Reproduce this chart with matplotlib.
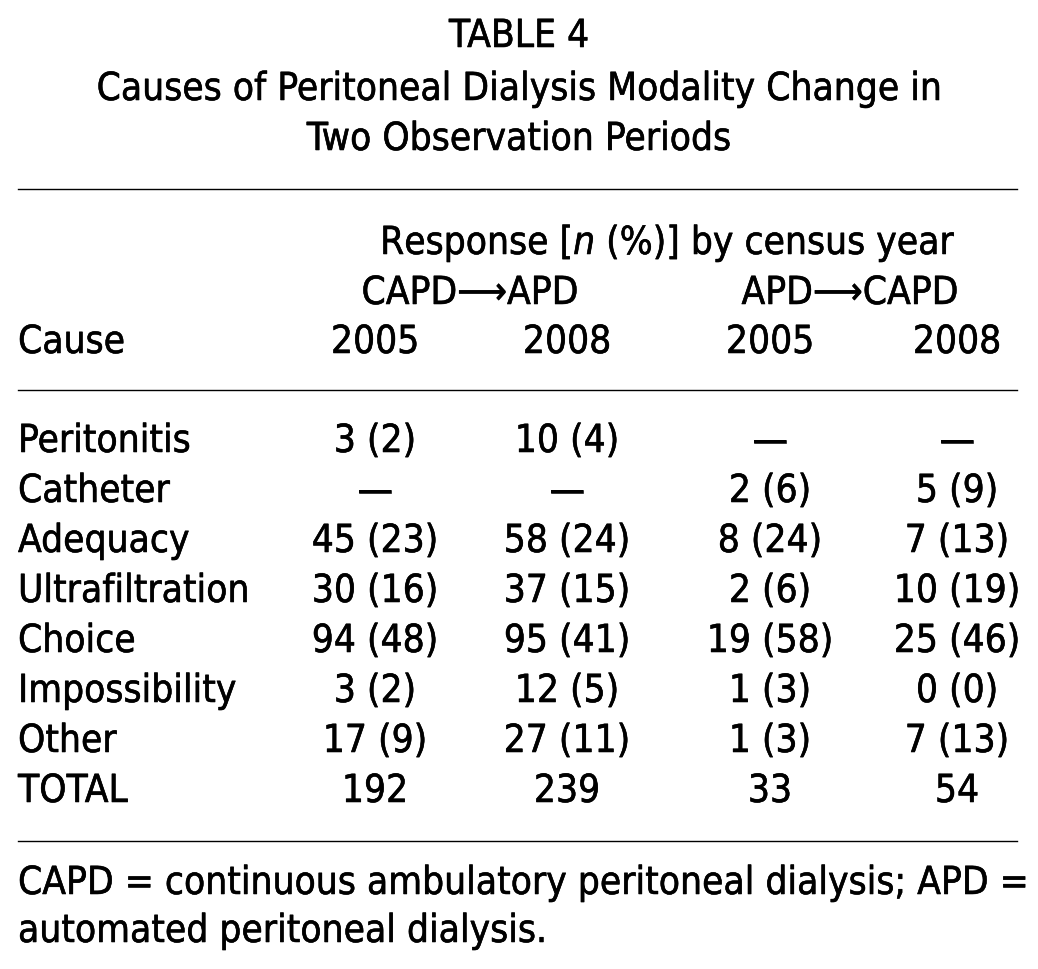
import matplotlib
matplotlib.use("Agg")
import matplotlib.pyplot as plt
from matplotlib import font_manager
import matplotlib.patheffects as pe

# -------data-------
title = ["TABLE 4",
         "Causes of Peritoneal Dialysis Modality Change in",
         "Two Observation Periods"]
spanner = "Response [$\\it{n}$ (%)] by census year"
groups = ["CAPD\u27f6APD", "APD\u27f6CAPD"]
years = ["2005", "2008", "2005", "2008"]
causes = ["Peritonitis", "Catheter", "Adequacy", "Ultrafiltration",
          "Choice", "Impossibility", "Other", "TOTAL"]
capd_apd_2005 = ["3 (2)", "\u2014", "45 (23)", "30 (16)", "94 (48)", "3 (2)", "17 (9)", "192"]
capd_apd_2008 = ["10 (4)", "\u2014", "58 (24)", "37 (15)", "95 (41)", "12 (5)", "27 (11)", "239"]
apd_capd_2005 = ["\u2014", "2 (6)", "8 (24)", "2 (6)", "19 (58)", "1 (3)", "1 (3)", "33"]
apd_capd_2008 = ["\u2014", "5 (9)", "7 (13)", "10 (19)", "25 (46)", "0 (0)", "7 (13)", "54"]
footnote = ["CAPD = continuous ambulatory peritoneal dialysis; APD =",
            "automated peritoneal dialysis."]

# -------font-------
# condensed face if one is installed
cond = None
for f in font_manager.fontManager.ttflist:
    if f.name in ("DejaVu Sans", "DejaVu Sans Condensed") and "ondensed" in f.fname \
            and f.style == "normal" and f.weight in (400, "normal"):
        cond = f.fname
        break
plt.rcParams['font.family'] = ['DejaVu Sans']
if cond:
    prop = font_manager.FontProperties(fname=cond, size=27.8)
    plt.rcParams['mathtext.fontset'] = 'custom'
    plt.rcParams['mathtext.rm'] = 'DejaVu Sans:stretch=condensed'
    plt.rcParams['mathtext.it'] = 'DejaVu Sans:italic:stretch=condensed'
    plt.rcParams['font.stretch'] = 'condensed'
else:
    prop = font_manager.FontProperties(family='DejaVu Sans', size=25)
heavy = [pe.withStroke(linewidth=0.4, foreground="black")]

# -------figure in pixel coords-------
fig = plt.figure(figsize=(10.38, 9.70), dpi=100)
ax = fig.add_axes([0, 0, 1, 1])
ax.set_xlim(0, 1038)
ax.set_ylim(970, 0)
ax.axis("off")

def put(x, y, s, ha="center"):
    ax.text(x, y + 2, s, ha=ha, va="center", fontproperties=prop, path_effects=heavy)

for y, t in zip([35, 88, 138], title):
    put(519, y, t)

for y in [190, 391, 842]:
    ax.plot([18, 1017], [y, y], color="black", lw=1)

put(668, 242, spanner)
put(470, 292, groups[0])
put(850, 292, groups[1])

col_x = [375, 567, 770, 957]
put(18, 341, "Cause", ha="left")
for x, yr in zip(col_x, years):
    put(x, 341, yr)

cols = [capd_apd_2005, capd_apd_2008, apd_capd_2005, apd_capd_2008]
for i, c in enumerate(causes):
    y = 440 + 50 * i
    put(18, y, c, ha="left")
    for x, col in zip(col_x, cols):
        put(x, y, col[i])

for y, t in zip([882, 930], footnote):
    put(18, y, t, ha="left")

fig.savefig("out.png", dpi=100)
